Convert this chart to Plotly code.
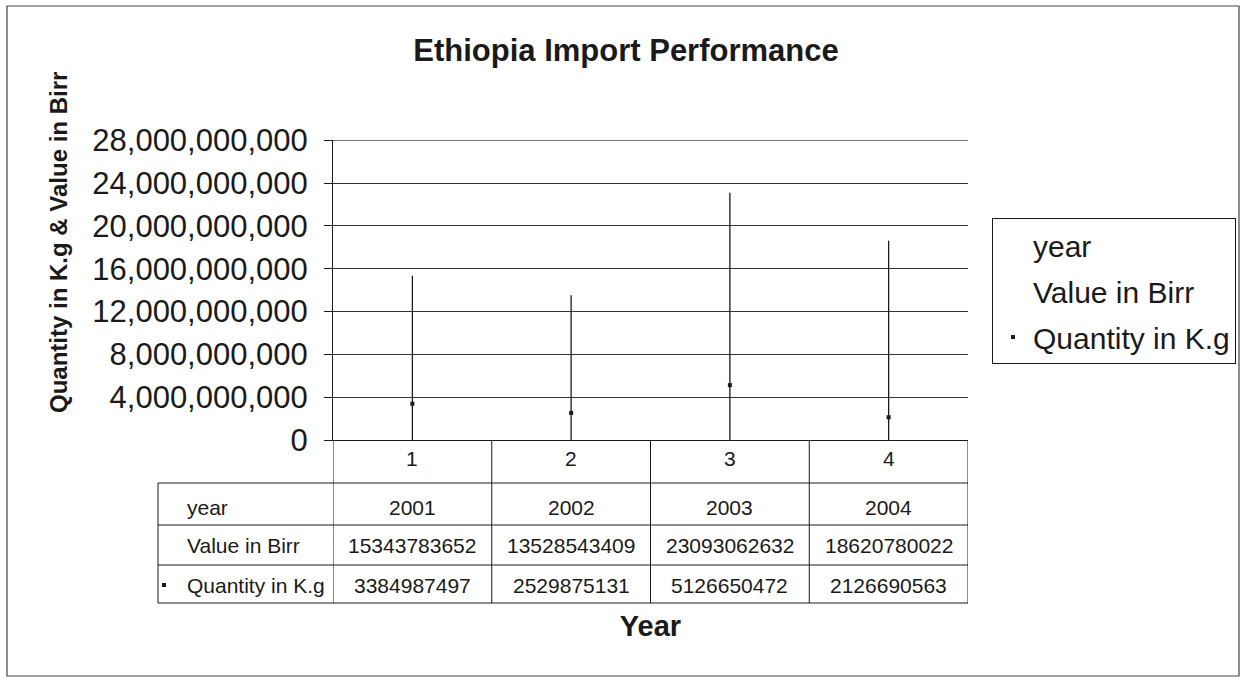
import plotly.graph_objects as go

# ---- data ----
categories = [1, 2, 3, 4]
category_labels = ["1", "2", "3", "4"]
years = [2001, 2002, 2003, 2004]
value_birr = [15343783652, 13528543409, 23093062632, 18620780022]
quantity_kg = [3384987497, 2529875131, 5126650472, 2126690563]
series_names = ["year", "Value in Birr", "Quantity in K.g"]
y_ticks = [0, 4e9, 8e9, 12e9, 16e9, 20e9, 24e9, 28e9]

W, H = 1242, 680
L, R, T, B = 333, 968, 140, 440  # plot area in pixels
FONT = "Liberation Sans, Arial, sans-serif"
INK = "#1a1a1a"


def px(X):
    return (X - L) / (R - L)


def py(Y):
    return (B - Y) / (B - T)


fig = go.Figure()

# high-low lines (from the 'year' series up to the value series)
hl_x, hl_y = [], []
for c, lo, hi in zip(categories, years, value_birr):
    hl_x += [c, c, None]
    hl_y += [lo, hi, None]
fig.add_trace(go.Scatter(x=hl_x, y=hl_y, mode="lines",
                         line=dict(color=INK, width=1.3),
                         showlegend=False, hoverinfo="skip"))

fig.add_trace(go.Scatter(x=categories, y=years, name=series_names[0], mode="markers",
                         marker=dict(color="rgba(0,0,0,0)", size=1),
                         legendgroup="a"))
fig.add_trace(go.Scatter(x=categories, y=value_birr, name=series_names[1], mode="markers",
                         marker=dict(color="rgba(0,0,0,0)", size=1),
                         legendgroup="b"))
fig.add_trace(go.Scatter(x=categories, y=quantity_kg, name=series_names[2], mode="markers",
                         marker=dict(color=INK, size=4, symbol="square"),
                         legendgroup="c"))

shapes = []
line_style = dict(color=INK, width=1)
# top gridline (at the upper end of the value axis)
shapes.append(dict(type="line", xref="paper", yref="y", x0=0, x1=1,
                   y0=y_ticks[-1], y1=y_ticks[-1], layer="below",
                   line=dict(color="#333", width=1)))
# outer chart border
shapes.append(dict(type="rect", xref="paper", yref="paper",
                   x0=px(7), x1=px(1239), y0=py(676), y1=py(6),
                   line=dict(color="#444", width=1.2)))
# table horizontal lines
row_lines = [483, 525, 565, 603]
for Y in row_lines:
    shapes.append(dict(type="line", xref="paper", yref="paper",
                       x0=px(158), x1=px(R), y0=py(Y), y1=py(Y), line=line_style))
# table vertical lines at category boundaries
bounds = [categories[0] - 0.5] + [c + 0.5 for c in categories]
for xb in bounds:
    shapes.append(dict(type="line", xref="x", yref="paper",
                       x0=xb, x1=xb, y0=py(B), y1=py(603), line=line_style))
shapes.append(dict(type="line", xref="paper", yref="paper",
                   x0=px(158), x1=px(158), y0=py(483), y1=py(603), line=line_style))
# marker key in table
shapes.append(dict(type="rect", xref="paper", yref="paper",
                   x0=px(162), x1=px(166), y0=py(587), y1=py(583),
                   fillcolor=INK, line=dict(width=0)))

annotations = []
tfont = dict(family=FONT, size=21, color=INK)
row_y = [458, 507, 545, 585]
for c, lab in zip(categories, category_labels):
    annotations.append(dict(x=c, y=py(row_y[0]), xref="x", yref="paper", text=lab,
                            showarrow=False, font=tfont, yanchor="middle"))
rows = [years, value_birr, quantity_kg]
for i, (name, vals) in enumerate(zip(series_names, rows)):
    annotations.append(dict(x=px(185), y=py(row_y[i + 1]), xref="paper", yref="paper",
                            text=name, showarrow=False, font=tfont,
                            xanchor="left", yanchor="middle"))
    for c, v in zip(categories, vals):
        annotations.append(dict(x=c, y=py(row_y[i + 1]), xref="x", yref="paper",
                                text=str(v), showarrow=False, font=tfont,
                                yanchor="middle"))

# y-axis title (placed as in the reference, above the plot centre)
annotations.append(dict(x=px(58), y=py(243), xref="paper", yref="paper",
                        text="Quantity in K.g & Value in Birr", textangle=-90,
                        showarrow=False, xanchor="center", yanchor="middle",
                        font=dict(family=FONT, size=24, weight="bold", color=INK)))

fig.update_layout(
    width=W, height=H, autosize=False,
    margin=dict(l=L, r=W - R, t=T, b=H - B, pad=0, autoexpand=False),
    paper_bgcolor="white", plot_bgcolor="white",
    font=dict(family=FONT, color=INK),
    title=dict(text="Ethiopia Import Performance", x=626 / W, xanchor="center",
               y=1 - 50 / H, yanchor="middle", yref="container",
               font=dict(family=FONT, size=31, weight="bold", color=INK)),
    xaxis=dict(range=[0.5, 4.5], showgrid=False, zeroline=False,
               showline=True, linecolor=INK, linewidth=1,
               showticklabels=False, ticks="",
               title=dict(text="Year", standoff=175,
                          font=dict(family=FONT, size=29, weight="bold", color=INK))),
    yaxis=dict(range=[0, 28.02e9], tickvals=y_ticks, tickformat=",.0f",
               showgrid=True, gridcolor="#333", gridwidth=1,
               zeroline=False, showline=True, linecolor=INK, linewidth=1,
               ticks="outside", ticklen=8, tickcolor=INK,
               ticklabelstandoff=10,
               tickfont=dict(family=FONT, size=31, color=INK)),
    legend=dict(x=px(992), y=py(218), xanchor="left", yanchor="top",
                bordercolor=INK, borderwidth=1, bgcolor="white",
                font=dict(family=FONT, size=30, color=INK),
                traceorder="grouped", tracegroupgap=4),
    shapes=shapes, annotations=annotations,
    showlegend=True,
)

fig.write_html("out.html")
